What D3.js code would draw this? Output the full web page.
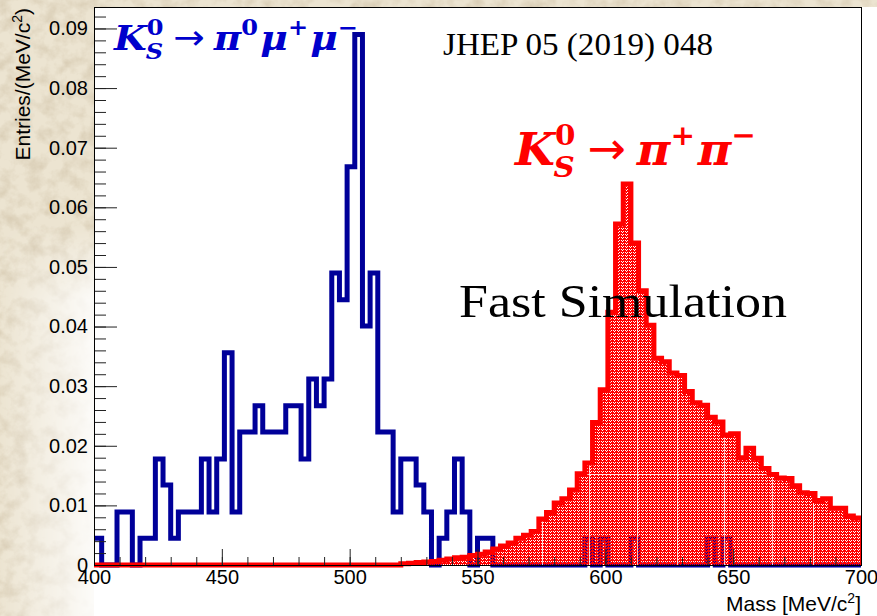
<!DOCTYPE html>
<html lang="en">
<head>
<meta charset="UTF-8">
<title>K0S invariant mass - fast simulation</title>
<script src="https://d3js.org/d3.v7.min.js"></script>
<style>
  body { margin: 0; background: #fff; }
  svg { display: block; }
  .tick text { font-family: "Liberation Sans", Arial, sans-serif; font-size: 20px; fill: #000; }
  .tick line { stroke: #222; stroke-width: 1px; }
  .axis-title { font-family: "Liberation Sans", Arial, sans-serif; font-size: 21px; fill: #000; }
</style>
</head>
<body>
<div id="chart"></div>
<script>
// histogram range, 3 MeV bins
const massMin = 400, massMax = 700, binWidth = 3;

// K0S -> pi0 mu+ mu-  (blue outline)
const muMuValues = [
  0.0045, 0, 0, 0.0089, 0.0089, 0, 0.0045, 0.0045, 0.0178, 0.0134,
  0.0045, 0.0089, 0.0089, 0.0089, 0.0178, 0.0089, 0.0178, 0.0356, 0.0089, 0.0223,
  0.0223, 0.0267, 0.0223, 0.0223, 0.0223, 0.0267, 0.0267, 0.0178, 0.0312, 0.0267,
  0.0312, 0.0490, 0.0445, 0.0668, 0.0890, 0.0401, 0.0490, 0.0223, 0.0223, 0.0089,
  0.0178, 0.0178, 0.0134, 0.0089, 0, 0.0045, 0.0089, 0.0178, 0.0089, 0,
  0.0045, 0.0045, 0, 0, 0, 0, 0, 0, 0, 0,
  0, 0, 0, 0, 0.0045, 0, 0.0045, 0, 0, 0,
  0.0045, 0, 0, 0, 0, 0, 0, 0, 0, 0,
  0.0045, 0, 0.0045, 0, 0, 0, 0, 0, 0, 0,
  0, 0, 0, 0, 0, 0, 0, 0, 0, 0
];

// K0S -> pi+ pi-  (red, filled)
const piPiValues = [
  0, 0, 0, 0, 0, 0, 0, 0, 0, 0,
  0, 0, 0, 0, 0, 0, 0, 0, 0, 0,
  0, 0, 0, 0, 0, 0, 0, 0, 0, 0,
  0, 0, 0, 0, 0, 0, 0, 0, 0, 0,
  0.0002, 0.0003, 0.0004, 0.0005, 0.0006, 0.0008, 0.0010, 0.0012, 0.0013, 0.0016,
  0.0018, 0.0022, 0.0027, 0.0032, 0.0037, 0.0045, 0.0050, 0.0056, 0.0077, 0.0088,
  0.0104, 0.0111, 0.0126, 0.0153, 0.0171, 0.0239, 0.0294, 0.0424, 0.0572, 0.0639,
  0.0540, 0.0460, 0.0402, 0.0347, 0.0341, 0.0322, 0.0318, 0.0291, 0.0272, 0.0268,
  0.0248, 0.0240, 0.0218, 0.0220, 0.0180, 0.0196, 0.0179, 0.0162, 0.0152, 0.0146,
  0.0145, 0.0133, 0.0121, 0.0120, 0.0108, 0.0111, 0.0095, 0.0095, 0.0082, 0.0079
];

const xTicks = [400, 450, 500, 550, 600, 650, 700];
const yTicks = [0, 0.01, 0.02, 0.03, 0.04, 0.05, 0.06, 0.07, 0.08, 0.09];
const yTickLabels = ["0", "0.01", "0.02", "0.03", "0.04", "0.05", "0.06", "0.07", "0.08", "0.09"];
const yMax = 0.0936;

// white seams of the fill pattern tiles seen in the picture (mass, and one level)
const seamMasses = [575.2, 593.6, 612.4, 628.0, 646.4, 665.2, 681.2];
const seamLevel = 0.0153;

const width = 877, height = 616;
const frame = { left: 94, right: 861, top: 7, bottom: 565 };

const x = d3.scaleLinear().domain([massMin, massMax]).range([frame.left, frame.right]);
const y = d3.scaleLinear().domain([0, yMax]).range([frame.bottom, frame.top]);

const svg = d3.select("#chart").append("svg")
  .attr("width", width)
  .attr("height", height);

const defs = svg.append("defs");

// parchment texture for the slide background
const paper = defs.append("filter").attr("id", "paper")
  .attr("x", 0).attr("y", 0).attr("width", "100%").attr("height", "100%");
paper.append("feTurbulence")
  .attr("type", "fractalNoise").attr("baseFrequency", 0.07)
  .attr("numOctaves", 4).attr("seed", 11);
paper.append("feColorMatrix").attr("type", "matrix")
  .attr("values", "0 0 0 0 0.62  0 0 0 0 0.53  0 0 0 0 0.38  1.3 0 0 0 -0.5");

// red dotted fill (ROOT style fill pattern): transparent holes let the blue through
const pat = defs.append("pattern").attr("id", "redDots")
  .attr("patternUnits", "userSpaceOnUse").attr("width", 4).attr("height", 3);
pat.append("path").attr("fill", "#ff0000")
  .attr("d", "M0,0h1v1H0z M2,0h1v1H2z M0,1h2v1H0z M3,1h1v1H3z M0,2h4v1H0z");

// where the parchment shows: top band, top-left corner, fading left strip
const mask = defs.append("mask").attr("id", "paperMask");
const leftStrip = defs.append("linearGradient").attr("id", "leftFade")
  .attr("x1", 0).attr("y1", 0).attr("x2", 1).attr("y2", 0);
leftStrip.append("stop").attr("offset", "0").attr("stop-color", "#fff");
leftStrip.append("stop").attr("offset", "0.45").attr("stop-color", "#999");
leftStrip.append("stop").attr("offset", "1").attr("stop-color", "#222");
const topLeft = defs.append("linearGradient").attr("id", "topLeftFade")
  .attr("x1", 0).attr("y1", 0).attr("x2", 0).attr("y2", 1);
topLeft.append("stop").attr("offset", "0.75").attr("stop-color", "#fff").attr("stop-opacity", 1);
topLeft.append("stop").attr("offset", "1").attr("stop-color", "#fff").attr("stop-opacity", 0);
mask.append("rect").attr("width", width).attr("height", height).attr("fill", "#000");
mask.append("rect").attr("width", frame.left).attr("height", height).attr("fill", "url(#leftFade)");
mask.append("rect").attr("width", frame.left).attr("height", 300).attr("fill", "url(#topLeftFade)");
mask.append("rect").attr("width", width).attr("height", frame.top).attr("fill", "#fff");

svg.append("rect").attr("width", width).attr("height", height).attr("fill", "#fff");
const bg = svg.append("g").attr("mask", "url(#paperMask)");
bg.append("rect").attr("width", width).attr("height", height).attr("fill", "#ece4d1");
bg.append("rect").attr("width", width).attr("height", height).attr("filter", "url(#paper)");

// plot area
svg.append("rect")
  .attr("x", frame.left).attr("y", frame.top)
  .attr("width", frame.right - frame.left).attr("height", frame.bottom - frame.top)
  .attr("fill", "#fff");

function binPoints(values) {
  const pts = values.map((v, i) => [massMin + i * binWidth, v]);
  pts.push([massMax, values[values.length - 1]]);
  return pts;
}

const stepLine = d3.line()
  .x(d => x(d[0]))
  .y(d => y(d[1]))
  .curve(d3.curveStepAfter);

const stepArea = d3.area()
  .x(d => x(d[0]))
  .y0(y(0))
  .y1(d => y(d[1]))
  .curve(d3.curveStepAfter);

// blue histogram
svg.append("path")
  .datum(binPoints(muMuValues))
  .attr("d", stepLine)
  .attr("fill", "none")
  .attr("stroke", "#000099")
  .attr("stroke-width", 5)
  .attr("stroke-linejoin", "miter");

// red histogram
defs.append("clipPath").attr("id", "redClip")
  .append("path").datum(binPoints(piPiValues)).attr("d", stepArea);

svg.append("path")
  .datum(binPoints(piPiValues))
  .attr("d", stepArea)
  .attr("fill", "url(#redDots)");

const seams = svg.append("g").attr("clip-path", "url(#redClip)")
  .attr("stroke", "#fff").attr("stroke-opacity", 0.75).attr("stroke-width", 1);
seams.selectAll("line.v").data(seamMasses).join("line").attr("class", "v")
  .attr("x1", d => Math.round(x(d)) + 0.5).attr("x2", d => Math.round(x(d)) + 0.5)
  .attr("y1", frame.top).attr("y2", frame.bottom);
seams.append("line")
  .attr("x1", x(massMin)).attr("x2", x(massMax))
  .attr("y1", Math.round(y(seamLevel)) + 0.5).attr("y2", Math.round(y(seamLevel)) + 0.5);

svg.append("path")
  .datum(binPoints(piPiValues))
  .attr("d", stepLine)
  .attr("fill", "none")
  .attr("stroke", "#ff0000")
  .attr("stroke-width", 5)
  .attr("stroke-linejoin", "miter");

// axes: ticks point into the frame
const yMinor = d3.range(0, yMax, 0.002);
const xMinor = d3.range(massMin, massMax + 1, 10);

svg.append("g")
  .attr("transform", `translate(${frame.left},0)`)
  .call(d3.axisLeft(y).tickValues(yMinor).tickSizeInner(-12).tickSizeOuter(0).tickFormat(""))
  .call(g => g.select(".domain").remove());

svg.append("g")
  .attr("transform", `translate(${frame.left},0)`)
  .call(d3.axisLeft(y).tickValues(yTicks).tickSizeInner(-23).tickSizeOuter(0).tickPadding(6)
    .tickFormat((d, i) => yTickLabels[i]))
  .call(g => g.select(".domain").remove());

svg.append("g")
  .attr("transform", `translate(0,${frame.bottom})`)
  .call(d3.axisBottom(x).tickValues(xMinor).tickSizeInner(-8).tickSizeOuter(0).tickFormat(""))
  .call(g => g.select(".domain").remove());

svg.append("g")
  .attr("transform", `translate(0,${frame.bottom})`)
  .call(d3.axisBottom(x).tickValues(xTicks).tickSizeInner(-16).tickSizeOuter(0).tickPadding(5)
    .tickFormat(d3.format("d")))
  .call(g => g.select(".domain").remove());

svg.selectAll(".tick text").attr("font-family", null).attr("font-size", null);

// frame
svg.append("rect")
  .attr("x", frame.left + 0.5).attr("y", frame.top + 0.5)
  .attr("width", frame.right - frame.left).attr("height", frame.bottom - frame.top)
  .attr("fill", "none").attr("stroke", "#000").attr("stroke-width", 1);

// axis titles
const yTitle = svg.append("text").attr("class", "axis-title")
  .attr("transform", `translate(30,${frame.top + 1}) rotate(-90)`)
  .attr("text-anchor", "end");
yTitle.append("tspan").text("Entries/(MeV/c");
yTitle.append("tspan").attr("dy", -8).attr("font-size", 14).text("2");
yTitle.append("tspan").attr("dy", 8).text(")");

const xTitle = svg.append("text").attr("class", "axis-title")
  .attr("x", frame.right).attr("y", 611)
  .attr("text-anchor", "end");
xTitle.append("tspan").text("Mass [MeV/c");
xTitle.append("tspan").attr("dy", -8).attr("font-size", 14).text("2");
xTitle.append("tspan").attr("dy", 8).text("]");

// decay labels, built piece by piece, then fitted into the box seen on the slide
function decayLabel(pieces, size, color, x0, x1, baseline) {
  const g = svg.append("g").attr("fill", color);
  let cx = 0;
  pieces.forEach(p => {
    if (p.arrow) {
      cx += 0.2 * size;
      const t = g.append("text").attr("x", cx).attr("y", -0.02 * size)
        .attr("font-family", "DejaVu Sans").attr("font-size", size).text("\u2192");
      cx += t.node().getComputedTextLength() + 0.24 * size;
      return;
    }
    const t = g.append("text").attr("x", cx).attr("y", 0)
      .attr("font-family", "DejaVu Serif").attr("font-weight", "bold").attr("font-style", "italic")
      .attr("font-size", size).text(p.base);
    cx += t.node().getComputedTextLength();
    let w = 0;
    if (p.sup) {
      const s = g.append("text").attr("x", cx).attr("y", -0.45 * size)
        .attr("font-family", "DejaVu Serif").attr("font-weight", "bold")
        .attr("font-size", size * 0.64).text(p.sup);
      w = Math.max(w, s.node().getComputedTextLength());
    }
    if (p.sub) {
      const s = g.append("text").attr("x", cx - 0.03 * size).attr("y", 0.27 * size)
        .attr("font-family", "DejaVu Serif").attr("font-weight", "bold").attr("font-style", "italic")
        .attr("font-size", size * 0.64).text(p.sub);
      w = Math.max(w, s.node().getComputedTextLength() - 0.03 * size);
    }
    cx += w + 0.06 * size;
  });
  const bb = g.node().getBBox();
  const sx = (x1 - x0) / bb.width;
  g.attr("transform", `translate(${x0 - bb.x * sx},${baseline}) scale(${sx},1)`);
}

decayLabel([
  { base: "K", sup: "0", sub: "S" },
  { arrow: true },
  { base: "\u03c0", sup: "0" },
  { base: "\u03bc", sup: "+" },
  { base: "\u03bc", sup: "\u2212" }
], 34, "#0000cc", 113, 358, 50);

decayLabel([
  { base: "K", sup: "0", sub: "S" },
  { arrow: true },
  { base: "\u03c0", sup: "+" },
  { base: "\u03c0", sup: "\u2212" }
], 45, "#ff0000", 513, 756, 165);

svg.append("text")
  .attr("x", 443).attr("y", 55)
  .attr("font-family", "Liberation Serif, serif").attr("font-size", 31)
  .attr("textLength", 270).attr("lengthAdjust", "spacingAndGlyphs")
  .text("JHEP 05 (2019) 048");

svg.append("text")
  .attr("x", 459).attr("y", 317)
  .attr("font-family", "Liberation Serif, serif").attr("font-size", 47)
  .attr("textLength", 328).attr("lengthAdjust", "spacingAndGlyphs")
  .text("Fast Simulation");
</script>
</body>
</html>
